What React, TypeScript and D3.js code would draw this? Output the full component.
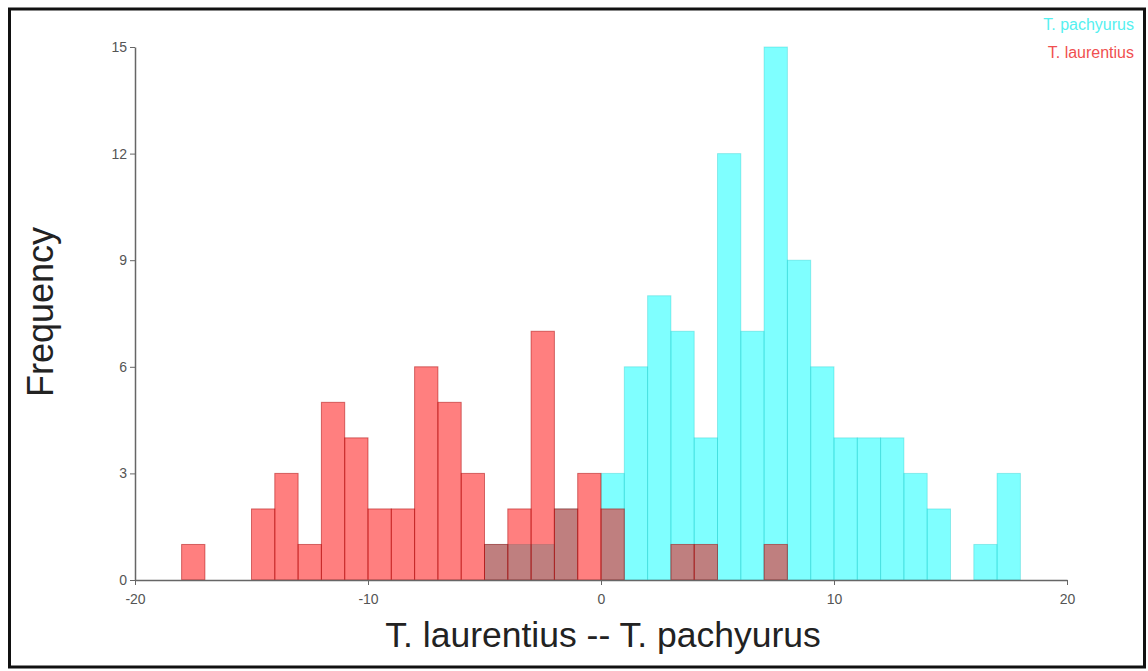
import * as d3 from 'd3';
import React, { useRef, useEffect } from 'react';

// histogram bins of width 1, listed by their left edge
const binStarts = [-18, -17, -16, -15, -14, -13, -12, -11, -10, -9, -8, -7, -6, -5, -4, -3, -2, -1,
    0, 1, 2, 3, 4, 5, 6, 7, 8, 9, 10, 11, 12, 13, 14, 15, 16, 17];
const laurentiusCounts = [1, 0, 0, 2, 3, 1, 5, 4, 2, 2, 6, 5, 3, 1, 2, 7, 2, 3,
    2, 0, 0, 1, 1, 0, 0, 1, 0, 0, 0, 0, 0, 0, 0, 0, 0, 0];
const pachyurusCounts = [0, 0, 0, 0, 0, 0, 0, 0, 0, 0, 0, 0, 0, 1, 1, 1, 2, 0,
    3, 6, 8, 7, 4, 12, 7, 15, 9, 6, 4, 4, 4, 3, 2, 0, 1, 3];
const xTicks = [-20, -10, 0, 10, 20];
const yTicks = [0, 3, 6, 9, 12, 15];
const legendLabels = ["T. pachyurus", "T. laurentius"];

const W = 1148;
const H = 671;

function App() {
    const ref = useRef(null);

    useEffect(() => {
        const svg = d3.select(ref.current);
        svg.selectAll("*").remove();

        const x = d3.scaleLinear().domain([-20, 20]).range([135, 1067]);
        const y = d3.scaleLinear().domain([0, 15]).range([580, 47]);

        // frame
        svg.append("rect")
            .attr("x", 9.5).attr("y", 9)
            .attr("width", 1135).attr("height", 658)
            .attr("fill", "white")
            .attr("stroke", "#111")
            .attr("stroke-width", 3);

        const series = [
            { counts: pachyurusCounts, fill: "rgba(0,255,255,0.5)", stroke: "rgba(0,190,190,0.3)" },
            { counts: laurentiusCounts, fill: "rgba(255,0,0,0.5)", stroke: "rgba(170,0,0,0.5)" },
        ];

        series.forEach(s => {
            const rows = binStarts.map((b, i) => ({ b, c: s.counts[i] })).filter(d => d.c > 0);
            svg.append("g").selectAll("rect")
                .data(rows)
                .enter()
                .append("rect")
                .attr("x", d => x(d.b))
                .attr("y", d => y(d.c))
                .attr("width", d => x(d.b + 1) - x(d.b))
                .attr("height", d => y(0) - y(d.c))
                .attr("fill", s.fill)
                .attr("stroke", s.stroke)
                .attr("stroke-width", 1);
        });

        const axisColor = "#666";
        const font = "'Liberation Sans', Arial, sans-serif";

        // x axis
        const gx = svg.append("g").attr("transform", `translate(0,${y(0)})`)
            .call(d3.axisBottom(x).tickValues(xTicks).tickSize(5).tickSizeOuter(0).tickFormat(d => String(d)));
        gx.select(".domain").attr("stroke", axisColor).attr("stroke-width", 1.5);
        gx.selectAll("line").attr("stroke", axisColor);
        gx.selectAll("text").attr("fill", "#555").attr("font-size", 14).attr("font-family", font).attr("dy", "1.15em");

        // y axis
        const gy = svg.append("g").attr("transform", `translate(${x(-20)},0)`)
            .call(d3.axisLeft(y).tickValues(yTicks).tickSize(5).tickSizeOuter(0).tickFormat(d => String(d)));
        gy.select(".domain").attr("stroke", axisColor).attr("stroke-width", 1.5);
        gy.selectAll("line").attr("stroke", axisColor);
        gy.selectAll("text").attr("fill", "#555").attr("font-size", 14).attr("font-family", font);

        // axis titles
        svg.append("text")
            .attr("x", 603).attr("y", 647)
            .attr("text-anchor", "middle")
            .attr("font-family", font)
            .attr("font-size", 35.5)
            .attr("fill", "#222")
            .text("T. laurentius -- T. pachyurus");

        svg.append("text")
            .attr("transform", "translate(53,312) rotate(-90)")
            .attr("text-anchor", "middle")
            .attr("font-family", font)
            .attr("font-size", 36)
            .attr("fill", "#222")
            .text("Frequency");

        // legend
        const legendColors = ["#55f0f0", "#f05050"];
        svg.append("g").selectAll("text")
            .data(legendLabels)
            .enter()
            .append("text")
            .attr("x", 1134)
            .attr("y", (d, i) => 30 + i * 28)
            .attr("text-anchor", "end")
            .attr("font-family", font)
            .attr("font-size", 16)
            .attr("fill", (d, i) => legendColors[i])
            .text(d => d);
    }, []);

    return (
        <svg ref={ref} width={W} height={H}
            style={{ position: 'absolute', left: 0, top: 0, background: 'white' }} />
    );
}

export default App;
